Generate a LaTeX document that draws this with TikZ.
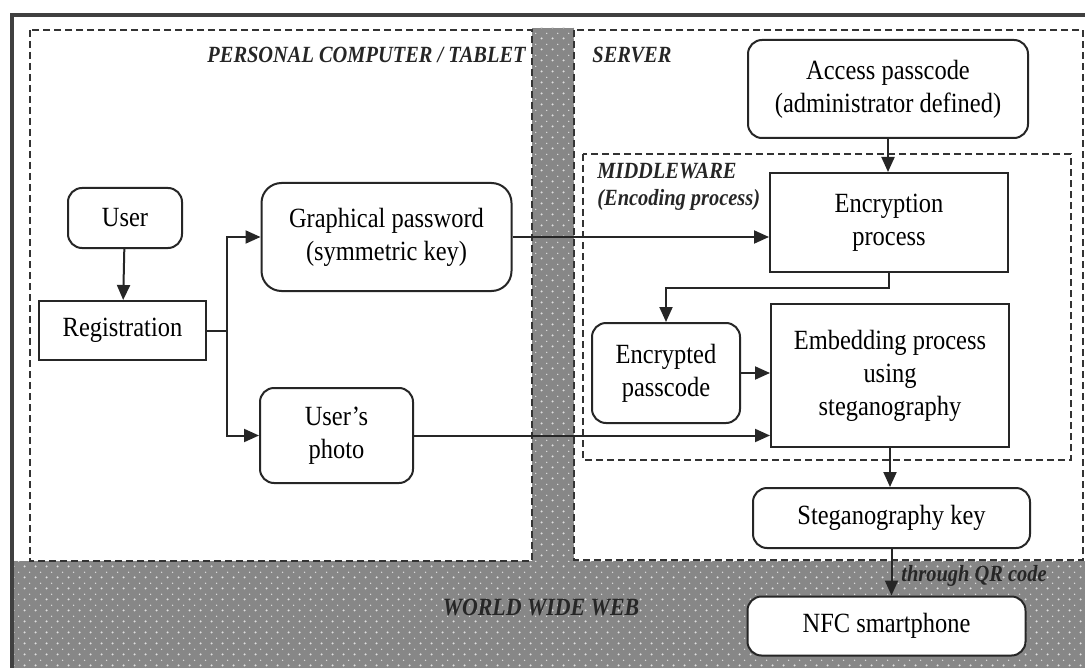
\documentclass[tikz,border=0pt]{standalone}
\usepackage{fontspec}
\setmainfont[FakeStretch=0.88]{Liberation Serif}
\usetikzlibrary{arrows.meta,patterns.meta}

\tikzdeclarepattern{
  name=webdots,
  type=uncolored,
  bounding box={(0pt,0pt) and (5.5pt,5.5pt)},
  tile size={(5.5pt,5.5pt)},
  code={
    \fill (1.4pt,1.4pt) circle (0.6pt);
    \fill (4.15pt,4.15pt) circle (0.4pt);
  }
}

\tikzset{
  base/.style={draw=black!85, line width=1pt, align=center,
    font=\fontsize{13.9}{16.5}\selectfont, inner sep=2pt, fill=white},
  rbox/.style={base, rounded corners=7pt},
  sbox/.style={base},
  zone/.style={draw=black!80, line width=0.8pt, dash pattern=on 3.5pt off 2pt},
  ttl/.style={font=\fontsize{11.6}{13.5}\selectfont\bfseries\itshape, inner sep=0pt, text=black!85},
  conn/.style={draw=black!85, line width=1pt, -{Triangle[length=7.5pt,width=6.5pt]}},
  web/.style={fill=black!47, postaction={pattern=webdots, pattern color=white!88!black}},
}

\begin{document}
\begin{tikzpicture}[x=0.5pt,y=-0.5pt]
\useasboundingbox (0,0) rectangle (1085,668);
\fill[white] (0,0) rectangle (1085,668);

% grey "world wide web" background
\path[web] (13,561) rectangle (1090,675);
\path[web] (532,28) rectangle (574,561);

% outer frame
\draw[black!75, line width=1.8pt] (12,680) -- (12,15) -- (1095,15);

% zones
\draw[zone, fill=white] (30,30) rectangle (532,561);
\draw[zone, fill=white] (574,30) rectangle (1083,560);
\draw[zone] (583,154) rectangle (1071,460);

% zone titles
\node[ttl, anchor=east] (tpc) at (526,55) {PERSONAL COMPUTER / TABLET};
\node[ttl, anchor=west] (tsrv) at (592,55) {SERVER};
\node[ttl, anchor=north west, align=left] (tmid) at (597,163) {MIDDLEWARE\\(Encoding process)};
\node[ttl, font=\fontsize{12.4}{14}\selectfont\bfseries\itshape] (tweb) at (541,607) {WORLD WIDE WEB};

% nodes
\node[rbox, minimum width=57pt, minimum height=30pt] (user) at (125,218) {User};
\node[sbox, minimum width=83.5pt, minimum height=29.5pt] (reg) at (122.5,330.5) {Registration};
\node[rbox, rounded corners=10pt, minimum width=125pt, minimum height=54pt] (gp) at (386.5,237) {Graphical password\\(symmetric key)};
\node[rbox, minimum width=76.5pt, minimum height=47.5pt] (photo) at (336.5,435.5) {User’s\\photo};
\node[rbox, minimum width=140pt, minimum height=49pt] (access) at (888,89) {Access passcode\\(administrator defined)};
\node[sbox, minimum width=119pt, minimum height=49.5pt] (enc) at (889,222.5) {Encryption\\process};
\node[rbox, minimum width=74pt, minimum height=50pt] (encp) at (666,373) {Encrypted\\passcode};
\node[sbox, minimum width=119pt, minimum height=71.5pt] (emb) at (890,375.5) {Embedding process\\using\\steganography};
\node[rbox, minimum width=138.5pt, minimum height=30pt] (skey) at (891.5,518) {Steganography key};
\node[rbox, minimum width=139pt, minimum height=29.5pt] (nfc) at (886.5,626) {NFC smartphone};

% connectors
\coordinate (split) at (227,330.5);
\draw[conn] (user) -- (reg);
\draw[draw=black!85, line width=1pt] (reg.east) -- (split);
\draw[conn] (split) |- (gp.west);
\draw[conn] (split) |- (photo.west);
\draw[conn] (gp.east) -- (gp.east -| enc.west);
\draw[conn] (photo.east) -- (photo.east -| emb.west);
\draw[conn] (access.south) -- (access.south |- enc.north);
\draw[conn] (enc.south) -- ++(0,15) -| (encp.north);
\draw[conn] (encp.east) -- (encp.east -| emb.west);
\draw[conn] (emb.south) -- (emb.south |- skey.north);
\draw[conn] (skey.south) -- (skey.south |- nfc.north);
\node[ttl, anchor=west] (tqr) at (901,576) {through QR code};
\end{tikzpicture}
\end{document}
